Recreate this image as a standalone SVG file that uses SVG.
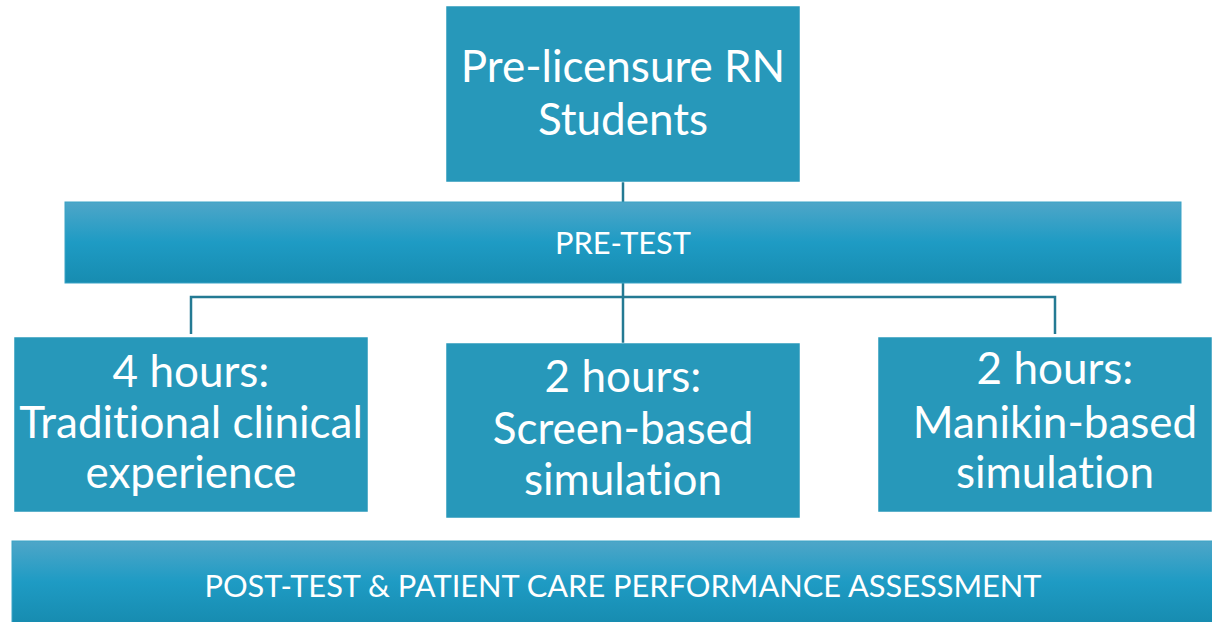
<svg xmlns="http://www.w3.org/2000/svg" width="1212" height="622" viewBox="0 0 1212 622">
  <style>
    .box { fill: #2798ba; stroke: #ffffff; stroke-width: 0.5; }
    .bar { fill: url(#barGrad); stroke: #3aa3c6; stroke-width: 1; }
    .lbl { font-family: Lato, "Open Sans", sans-serif; fill: #ffffff; text-anchor: middle; font-variant-ligatures: none; }
    .big { font-size: 44px; }
    .small { font-size: 30.8px; }
    .conn { fill: none; stroke: #247a93; stroke-width: 2.5; }
  </style>
  <defs>
    <linearGradient id="barGrad" x1="0" y1="0" x2="0" y2="1">
      <stop offset="0" stop-color="#4ea6c8"/>
      <stop offset="0.5" stop-color="#1e9bc4"/>
      <stop offset="1" stop-color="#178cb0"/>
    </linearGradient>
  </defs>

  <!-- connectors -->
  <g id="connectors">
    <line class="conn" x1="623" y1="182" x2="623" y2="203"/>
    <line class="conn" x1="623" y1="283" x2="623" y2="343"/>
    <polyline class="conn" points="191,334 191,297 1055,297 1055,334"/>
  </g>

  <g id="students">
    <rect class="box" x="446" y="6" width="354" height="176"/>
    <text class="lbl big" x="623" y="82">Pre-licensure RN</text>
    <text class="lbl big" x="623" y="135">Students</text>
  </g>

  <g id="pretest">
    <rect class="bar" x="65" y="202" width="1116" height="81"/>
    <text class="lbl small" x="623" y="254">PRE-TEST</text>
  </g>

  <g id="traditional">
    <rect class="box" x="14" y="337" width="354" height="175"/>
    <text class="lbl big" x="191" y="387">4 hours:</text>
    <text class="lbl big" x="191" y="438">Traditional clinical</text>
    <text class="lbl big" x="191" y="488">experience</text>
  </g>

  <g id="screen">
    <rect class="box" x="446" y="343" width="354" height="175"/>
    <text class="lbl big" x="623" y="392">2 hours:</text>
    <text class="lbl big" x="623" y="444">Screen-based</text>
    <text class="lbl big" x="623" y="495">simulation</text>
  </g>

  <g id="manikin">
    <rect class="box" x="878" y="337" width="334" height="175"/>
    <text class="lbl big" x="1055" y="384">2 hours:</text>
    <text class="lbl big" x="1055" y="438">Manikin-based</text>
    <text class="lbl big" x="1055" y="488">simulation</text>
  </g>

  <g id="posttest">
    <rect class="bar" x="12" y="541" width="1202" height="82"/>
    <text class="lbl small" x="623" y="597">POST-TEST &amp; PATIENT CARE PERFORMANCE ASSESSMENT</text>
  </g>
</svg>
